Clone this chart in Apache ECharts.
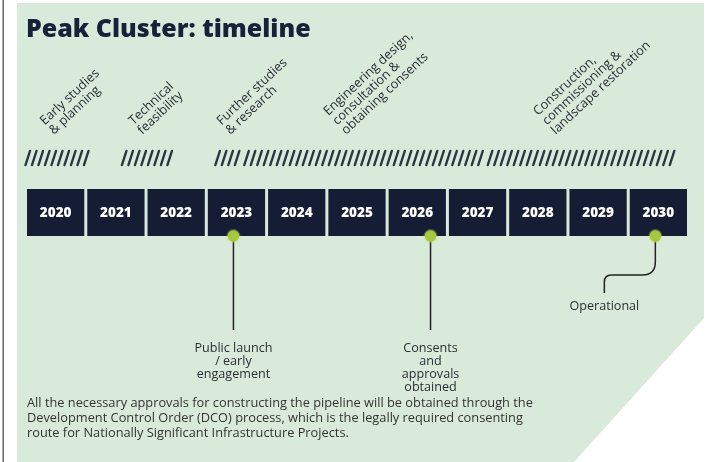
<!DOCTYPE html>
<html><head><meta charset="utf-8">
<script src="https://cdn.jsdelivr.net/npm/echarts@6/dist/echarts.min.js"></script>
<style>html,body{margin:0;padding:0;background:#fff}#c{width:709px;height:462px}</style>
</head><body><div id="c"></div>
<script>
// ---- data ----
const chartTitle = 'Peak Cluster: timeline';
const years = [2020, 2021, 2022, 2023, 2024, 2025, 2026, 2027, 2028, 2029, 2030];
const phaseNames = [
  'Early studies\n& planning',
  'Technical\nfeasibility',
  'Further studies\n& research',
  'Engineering design,\nconsultation &\nobtaining consents',
  'Construction,\ncommissioning &\nlandscape restoration'
];
const phaseStart = [2020.0, 2021.6, 2023.15, 2023.63, 2027.67];
const phaseEnd = [2021.08, 2022.47, 2023.58, 2027.6, 2030.77];
const phaseLabelAt = [2020.5, 2021.97, 2023.43, 2025.35, 2028.83];
const milestoneAt = [2023.45, 2026.72, 2030.45];
const milestoneNames = [
  'Public launch\n/ early\nengagement',
  'Consents\nand\napprovals\nobtained',
  'Operational'
];
const footnoteLines = [
  'All the necessary approvals for constructing the pipeline will be obtained through the',
  'Development Control Order (DCO) process, which is the legally required consenting',
  'route for Nationally Significant Infrastructure Projects.'
];

// ---- styles ----
const FONT = '"Open Sans", "Noto Sans", sans-serif';
const NAVY = '#141d33';
const INK = '#2a2f36';
const DOT = '#a6c83c';
const ANG = 43 * Math.PI / 180;

const chart = echarts.init(document.getElementById('c'), null, {renderer: 'canvas'});

const option = {
  animation: false,
  backgroundColor: '#ffffff',
  title: {
    text: chartTitle, left: 26, top: 17, padding: 0,
    textStyle: {fontFamily: FONT, fontSize: 25, fontWeight: 800, color: '#17223a'}
  },
  graphic: {elements: [
    {type: 'rect', z: -20, shape: {x: 2.5, y: 0, width: 1.4, height: 462}, style: {fill: '#5a5a5a'}},
    {type: 'rect', z: -20, shape: {x: 17, y: 3, width: 687, height: 459}, style: {fill: '#d9eadb'}},
    {type: 'polygon', z: -19, shape: {points: [[704, 318], [709, 318], [709, 462], [574, 462]]}, style: {fill: '#ffffff'}},
    {type: 'text', z: 5, x: 27, y: 396, style: {
      text: footnoteLines.join('\n'), fontFamily: FONT, fontSize: 12.8, lineHeight: 15,
      fill: '#333333', align: 'left', verticalAlign: 'top'}}
  ]},
  grid: {left: 25.5, top: 189, width: 663, height: 47},
  xAxis: {type: 'value', min: 2020, max: 2031, show: false},
  yAxis: {type: 'value', min: 0, max: 1, show: false},
  series: [
    {
      type: 'custom', name: 'years', z: 2,
      data: years.map(y => [y]),
      renderItem: function (params, api) {
        const y = api.value(0);
        const p0 = api.coord([y, 1]);
        const p1 = api.coord([y + 1, 0]);
        return {type: 'group', children: [
          {type: 'rect', shape: {x: p0[0] + 1.5, y: p0[1], width: p1[0] - p0[0] - 3, height: p1[1] - p0[1]},
           style: {fill: NAVY}},
          {type: 'text', x: (p0[0] + p1[0]) / 2, y: (p0[1] + p1[1]) / 2 + 0.5,
           style: {text: String(y), fontFamily: FONT, fontSize: 13.5, fontWeight: 800,
                   fill: '#ffffff', align: 'center', verticalAlign: 'middle'}}
        ]};
      }
    },
    {
      type: 'custom', name: 'phases', z: 3,
      data: phaseStart.map((s, i) => [s, phaseEnd[i], phaseLabelAt[i]]),
      renderItem: function (params, api) {
        const cs = params.coordSys;
        const x0 = api.coord([api.value(0), 0])[0];
        const x1 = api.coord([api.value(1), 0])[0];
        const xl = api.coord([api.value(2), 0])[0];
        const yTop = cs.y - 38, yBot = cs.y - 24;
        const children = [];
        for (let xb = x0; xb + 4 <= x1 + 0.5; xb += 6.5) {
          children.push({type: 'line', shape: {x1: xb, y1: yBot, x2: xb + 4.5, y2: yTop},
            style: {stroke: '#2b3441', lineWidth: 2.4, lineCap: 'round'}});
        }
        const lines = phaseNames[params.dataIndex].split('\n');
        const n = lines.length, lh = 13, yb = cs.y - 52;
        lines.forEach(function (t, k) {
          const dy = -(n - 1 - k) * lh;
          children.push({type: 'text', x: xl + Math.sin(ANG) * dy, y: yb + Math.cos(ANG) * dy,
            rotation: ANG,
            style: {text: t, fontFamily: FONT, fontSize: 12.8,
                    fill: INK, align: 'left', verticalAlign: 'bottom'}});
        });
        return {type: 'group', children: children};
      }
    },
    {
      type: 'custom', name: 'milestones', z: 4,
      data: milestoneAt.map(m => [m]),
      renderItem: function (params, api) {
        const cs = params.coordSys;
        const cx = api.coord([api.value(0), 0])[0];
        const cy = cs.y + cs.height;
        const last = params.dataIndex === milestoneAt.length - 1;
        const children = [];
        if (!last) {
          children.push({type: 'line', shape: {x1: cx, y1: cy, x2: cx, y2: cy + 94},
            style: {stroke: '#222222', lineWidth: 1.5}});
          children.push({type: 'text', x: cx, y: cy + 106,
            style: {text: milestoneNames[params.dataIndex], fontFamily: FONT, fontSize: 12.6, lineHeight: 13,
                    fill: INK, align: 'center', verticalAlign: 'top'}});
        } else {
          const lx = cx - 51;
          children.push({type: 'path', shape: {
              pathData: 'M' + cx + ',' + cy + ' L' + cx + ',' + (cy + 26) +
                ' Q' + cx + ',' + (cy + 39) + ' ' + (cx - 13) + ',' + (cy + 39) +
                ' L' + (lx + 7) + ',' + (cy + 39) +
                ' Q' + lx + ',' + (cy + 39) + ' ' + lx + ',' + (cy + 46) +
                ' L' + lx + ',' + (cy + 57)},
            style: {stroke: '#222222', lineWidth: 1.5, fill: null}});
          children.push({type: 'text', x: lx, y: cy + 70,
            style: {text: milestoneNames[params.dataIndex], fontFamily: FONT, fontSize: 12.6,
                    fill: INK, align: 'center', verticalAlign: 'middle'}});
        }
        children.push({type: 'circle', shape: {cx: cx, cy: cy, r: 7}, style: {fill: 'rgba(190,225,90,0.35)'}});
        children.push({type: 'circle', shape: {cx: cx, cy: cy, r: 5.8}, style: {fill: DOT}});
        return {type: 'group', children: children};
      }
    }
  ]
};
chart.setOption(option);
</script>
</body></html>
